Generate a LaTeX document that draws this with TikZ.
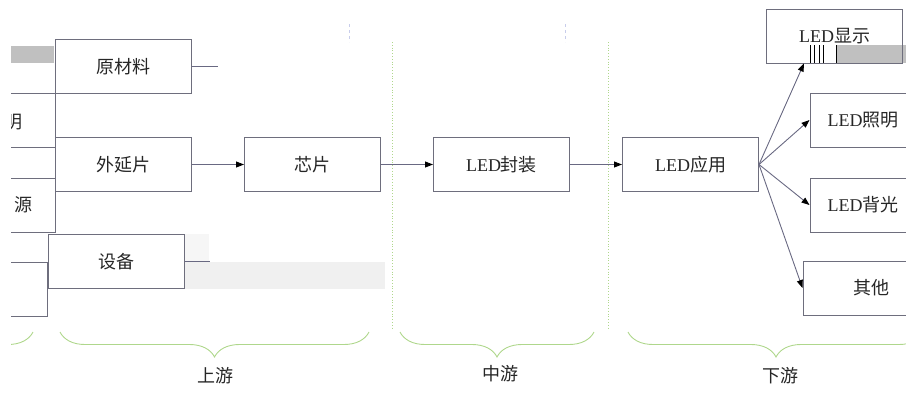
\documentclass[tikz,border=0pt]{standalone}
\usepackage{fontspec}
\setmainfont{Liberation Serif}
\newfontfamily\cjk{Noto Sans CJK SC}
\usetikzlibrary{arrows.meta,decorations.pathreplacing}
\definecolor{boxgray}{RGB}{110,110,125}
\definecolor{linegray}{RGB}{105,105,130}
\definecolor{braceg}{RGB}{175,215,140}
\definecolor{artgray}{RGB}{192,192,192}
\definecolor{artlight}{RGB}{240,240,240}
\definecolor{faintblue}{RGB}{200,205,235}
\tikzset{
  box/.style={shape=rectangle,draw=boxgray,line width=1pt,minimum width=136pt,minimum height=54pt,inner sep=0pt,text=black!85,font=\fontsize{18}{18}\selectfont},
  word/.style={inner sep=0pt,text=black!85,font=\fontsize{18}{18}\selectfont},
  link/.style={draw=linegray,line width=0.9pt},
  arr/.style={link,-{Triangle[length=8pt,width=6pt,color=black]}},
  stage/.style={draw=braceg,line width=0.9pt,decorate,decoration={brace,mirror,amplitude=25pt}},
  sep/.style={draw=braceg,dotted,line width=0.8pt},
}

\begin{document}
\begin{tikzpicture}[x=1pt,y=-1pt,node distance=189pt]
\useasboundingbox (0,0) rectangle (906,392);
\clip (11,0) rectangle (906,392);
\fill[artgray] (11,46) rectangle (54,63);
\fill[artlight] (185,262) rectangle (385,289);
\fill[artlight!60] (185,234) rectangle (209,262);
\fill[artgray] (837,45) rectangle (906,63);
\foreach \x in {810,814,819,823,836} \draw[line width=0.8pt] (\x,45) -- (\x,63);

\node (zuo1) [box] at (-13,120.5) {};
\node (zuo2) [box] at (-13,205) {};
\node (zuo3) [box] at (-21,289) {};
\node (ming) [word] at (14,122) {\cjk 明};
\node (yuan) [word] at (23,205) {\cjk 源};

\node (yuancailiao) [box] at (123.5,66.5) {\cjk 原材料};
\node (waiyanpian) [box] at (123.5,164.5) {\cjk 外延片};
\node (shebei) [box] at (116,261.5) {\cjk 设备};
\node (xinpian) [box] [right of = waiyanpian] {\cjk 芯片};
\node (fengzhuang) [box] [right of = xinpian] {LED\cjk 封装};
\node (yingyong) [box] [right of = fengzhuang] {LED\cjk 应用};
\node (xianshi) [box] at (834.5,36) {LED\cjk 显示};
\node (zhaoming) [box] at (878,120) {\hspace*{-30pt}LED\cjk 照明};
\node (beiguang) [box] [below of = zhaoming, node distance=85pt] {\hspace*{-30pt}LED\cjk 背光};
\node (qita) [box] at (871,288) {\cjk 其他};

\coordinate (hui1) at (218,66.5);
\coordinate (hui3) at (210,261.5);
\draw[link] (yuancailiao) -- (hui1);
\draw[link] (shebei) -- (hui3);
\draw[arr] (waiyanpian) -- (xinpian);
\draw[arr] (xinpian) -- (fengzhuang);
\draw[arr] (fengzhuang) -- (yingyong);
\draw[arr] (yingyong.east) -- (xianshi.222);
\draw[arr] (yingyong.east) -- (zhaoming.west);
\draw[arr] (yingyong.east) -- (beiguang.west);
\draw[arr] (yingyong.east) -- (qita.west);

\draw[sep] (392,42) -- (392,330);
\draw[sep] (608,42) -- (608,330);
\draw[faintblue,dashed,line width=0.8pt] (349,24) -- (349,42);
\draw[faintblue,dashed,line width=0.8pt] (565,24) -- (565,42);

\draw[stage] (-150,332) -- (33,332);
\draw[stage] (60,332) -- (369,332);
\draw[stage] (400,332) -- (594,332);
\draw[stage] (628,332) -- (924,332);
\node (shangyou) [word] at (215,376) {\cjk 上游};
\node (zhongyou) [word] at (500,374) {\cjk 中游};
\node (xiayou) [word] at (780,376) {\cjk 下游};
\end{tikzpicture}
\end{document}
